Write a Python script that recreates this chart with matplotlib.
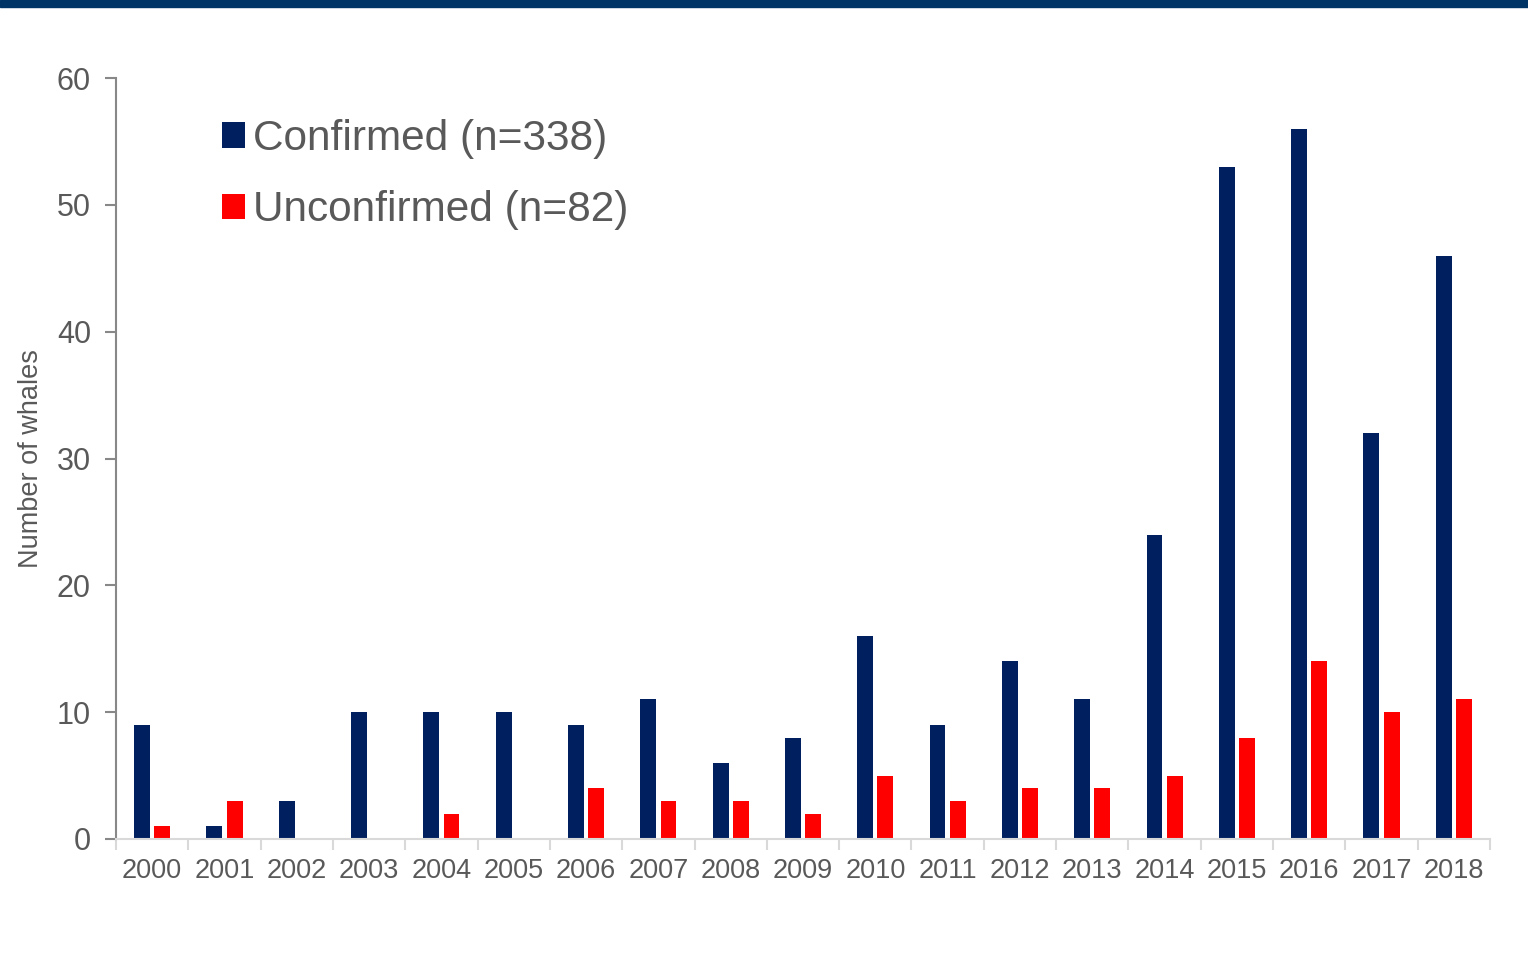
import matplotlib
matplotlib.use('Agg')
import matplotlib.pyplot as plt
import matplotlib.patches as mpatches
import numpy as np

plt.rcParams['font.family'] = ['Liberation Sans', 'DejaVu Sans']

years = ['2000', '2001', '2002', '2003', '2004', '2005', '2006', '2007', '2008', '2009',
         '2010', '2011', '2012', '2013', '2014', '2015', '2016', '2017', '2018']
confirmed = [9, 1, 3, 10, 10, 10, 9, 11, 6, 8, 16, 9, 14, 11, 24, 53, 56, 32, 46]
unconfirmed = [1, 3, 0, 0, 2, 0, 4, 3, 3, 2, 5, 3, 4, 4, 5, 8, 14, 10, 11]

navy = '#001f5f'
red = '#ff0000'
grey_txt = '#595959'

fig = plt.figure(figsize=(15.28, 9.6), dpi=100)
W, H = 1528, 960
ax = fig.add_axes([116 / W, 1 - 839 / H, (1490 - 116) / W, (839 - 78) / H])

# dark band at top
fig.patches.append(mpatches.Rectangle((0, 1 - 7 / H), 1, 7 / H, transform=fig.transFigure,
                                      color='#003366', zorder=0))

x = np.arange(len(years))
w = 0.22
ax.bar(x - 0.14, confirmed, w, color=navy, label='Confirmed (n=338)')
ax.bar(x + 0.14, unconfirmed, w, color=red, label='Unconfirmed (n=82)')

ax.set_xlim(-0.5, len(years) - 0.5)
ax.set_ylim(0, 60)
ax.set_yticks(range(0, 61, 10))
ax.set_xticks(x)
ax.set_xticklabels(years)
ax.set_xticks(np.arange(-0.5, len(years), 1), minor=True)
ax.tick_params(axis='x', which='major', length=0, labelsize=19.5, labelcolor=grey_txt, pad=14)
ax.tick_params(axis='x', which='minor', length=8, color='#d9d9d9', width=1.5)
ax.tick_params(axis='y', length=8, color='#888888', width=1.5, labelsize=22,
               labelcolor=grey_txt, pad=10)

for s in ['top', 'right']:
    ax.spines[s].set_visible(False)
ax.spines['left'].set_color('#888888')
ax.spines['left'].set_linewidth(1.5)
ax.spines['bottom'].set_color('#d9d9d9')
ax.spines['bottom'].set_linewidth(1.5)

ax.set_ylabel('Number of whales', fontsize=19.5, color=grey_txt, labelpad=9)

ax.legend(loc='upper left', bbox_to_anchor=(205 / W, 1 - 102 / H), bbox_transform=fig.transFigure,
          frameon=False, fontsize=30.5, handlelength=0.55, handleheight=0.55,
          handletextpad=0.18, labelspacing=0.74, borderaxespad=0, labelcolor=grey_txt)

fig.savefig('out.png', dpi=100)
